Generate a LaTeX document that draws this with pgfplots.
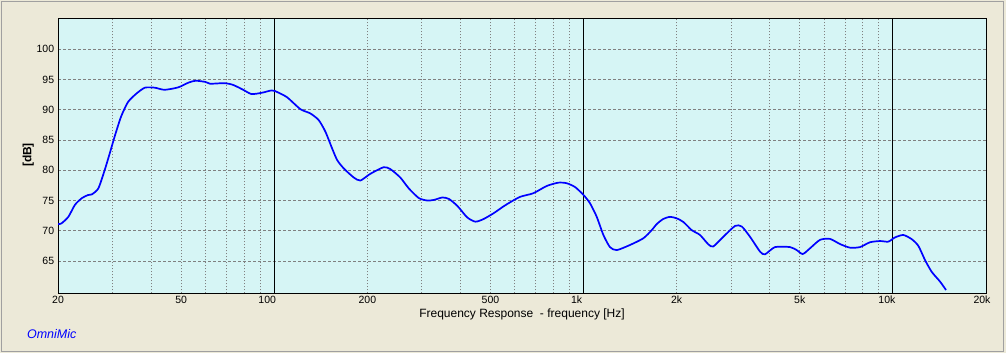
\documentclass[border=0pt]{standalone}
\usepackage{fontspec}
\setmainfont{Liberation Sans}
\usepackage{pgfplots}
\pgfplotsset{compat=1.18}
\definecolor{bgbeige}{RGB}{236,233,216}
\definecolor{plotbg}{RGB}{214,245,245}
\definecolor{gridgray}{RGB}{128,128,128}
\definecolor{framegray}{RGB}{160,160,160}
\definecolor{curveblue}{RGB}{0,0,255}
\begin{document}
\begin{tikzpicture}
\path[use as bounding box] (0,0) rectangle (1006bp,353bp);
\fill[bgbeige] (0,0) rectangle (1006bp,353bp);
\draw[framegray, line width=1bp] (1.5bp,1.5bp) rectangle (1003.5bp,351.5bp);
\begin{axis}[
  at={(58bp,59.7bp)}, anchor=south west,
  scale only axis, width=928bp, height=275bp,
  xmode=log, xmin=20, xmax=20000, ymin=59.66, ymax=105.12,
  axis background/.style={fill=plotbg},
  axis line style={black, line width=1bp},
  xtick={20,50,100,200,500,1000,2000,5000,10000,20000},
  xticklabels={20,50,100\kern14bp,200,500,1k\kern14bp,2k,5k,10k\kern12bp,20k\kern8bp},
  minor xtick={30,40,50,60,70,80,90,200,300,400,500,600,700,800,900,2000,3000,4000,5000,6000,7000,8000,9000},
  xminorgrids,
  minor grid style={gridgray, line width=0.9bp, dash pattern=on 1bp off 2bp},
  ytick={65,70,75,80,85,90,95,100},
  ymajorgrids,
  major grid style={gridgray, line width=0.9bp, dash pattern=on 3bp off 2bp},
  tick style={draw=none},
  extra x ticks={100,1000,10000}, extra x tick labels={},
  extra x tick style={grid=major, major grid style={black, line width=1bp, solid}},
  /pgf/number format/assume math mode=true,
  xticklabel style={anchor=north, inner sep=0pt, yshift=-2.7bp, font=\fontsize{10.5bp}{12bp}\selectfont},
  yticklabel style={anchor=east, inner sep=0pt, xshift=-3.7bp, font=\fontsize{10.5bp}{12bp}\selectfont},
]
\addplot[curveblue, line width=1.7bp, smooth, tension=0.4] coordinates {
(20,71.1) (20.5,71.2) (21.6,72.3) (22.7,74.3) (23.9,75.4) (25.0,75.9) (25.7,76.0) (27.0,77.0)
(28.3,80.0) (29.4,82.8) (30.5,85.6) (32.0,88.9) (33.7,91.3) (35.9,92.7) (38.2,93.65) (41.1,93.65)
(44.2,93.3) (48.9,93.7) (52.9,94.5) (55.7,94.8) (59.9,94.6) (62.0,94.3) (69.2,94.4) (73.7,94.1)
(79.4,93.3) (84.4,92.6) (91.0,92.8) (98.0,93.2) (100.5,93.1) (109.8,92.1) (121.5,90.1) (130.8,89.4)
(139.2,88.3) (146.3,86.4) (153.9,83.6) (159.7,81.7) (167.8,80.3) (180.8,78.8) (189.9,78.3) (204.3,79.4)
(225.6,80.5) (237.2,80.2) (255.6,78.8) (272.3,77.0) (293.4,75.4) (312.3,75.0) (328.4,75.1) (349.6,75.5)
(367.3,75.25) (391.0,74.1) (420.7,72.2) (447.4,71.5) (475.7,71.95) (512,72.9) (550,74.0) (570,74.5)
(623,75.6) (688,76.2) (760,77.4) (829,77.95) (883,77.85) (940,77.2) (1000,75.9) (1049,74.55)
(1103,72.3) (1159,69.3) (1217,67.3) (1280,66.8) (1413,67.65) (1560,68.75) (1661,70.1) (1724,71.1)
(1810,71.95) (1904,72.3) (2000,72.05) (2102,71.45) (2237,70.1) (2379,69.3) (2532,67.75) (2626,67.4)
(2830,69.0) (3089,70.8) (3246,70.7) (3453,69.0) (3720,66.55) (3860,66.1) (4158,67.3) (4650,67.3)
(4888,66.8) (5112,66.15) (5396,67.1) (5815,68.5) (6264,68.65) (6746,67.8) (7267,67.2) (7829,67.3)
(8434,68.1) (9087,68.3) (9666,68.2) (10160,68.9) (10808,69.3) (11508,68.6) (12086,67.5) (12704,65.15)
(13352,63.2) (14202,61.6) (14852,60.2)
};
\end{axis}
\node[font=\fontsize{12bp}{14bp}\selectfont] at (522bp,39bp) {Frequency Response\ \ - frequency [Hz]};
\node[rotate=90, font=\bfseries\fontsize{12bp}{14bp}\selectfont] at (28.3bp,198bp) {[dB]};
\node[curveblue, font=\itshape\fontsize{12.5bp}{14bp}\selectfont] at (51.7bp,19bp) {OmniMic};
\end{tikzpicture}
\end{document}
